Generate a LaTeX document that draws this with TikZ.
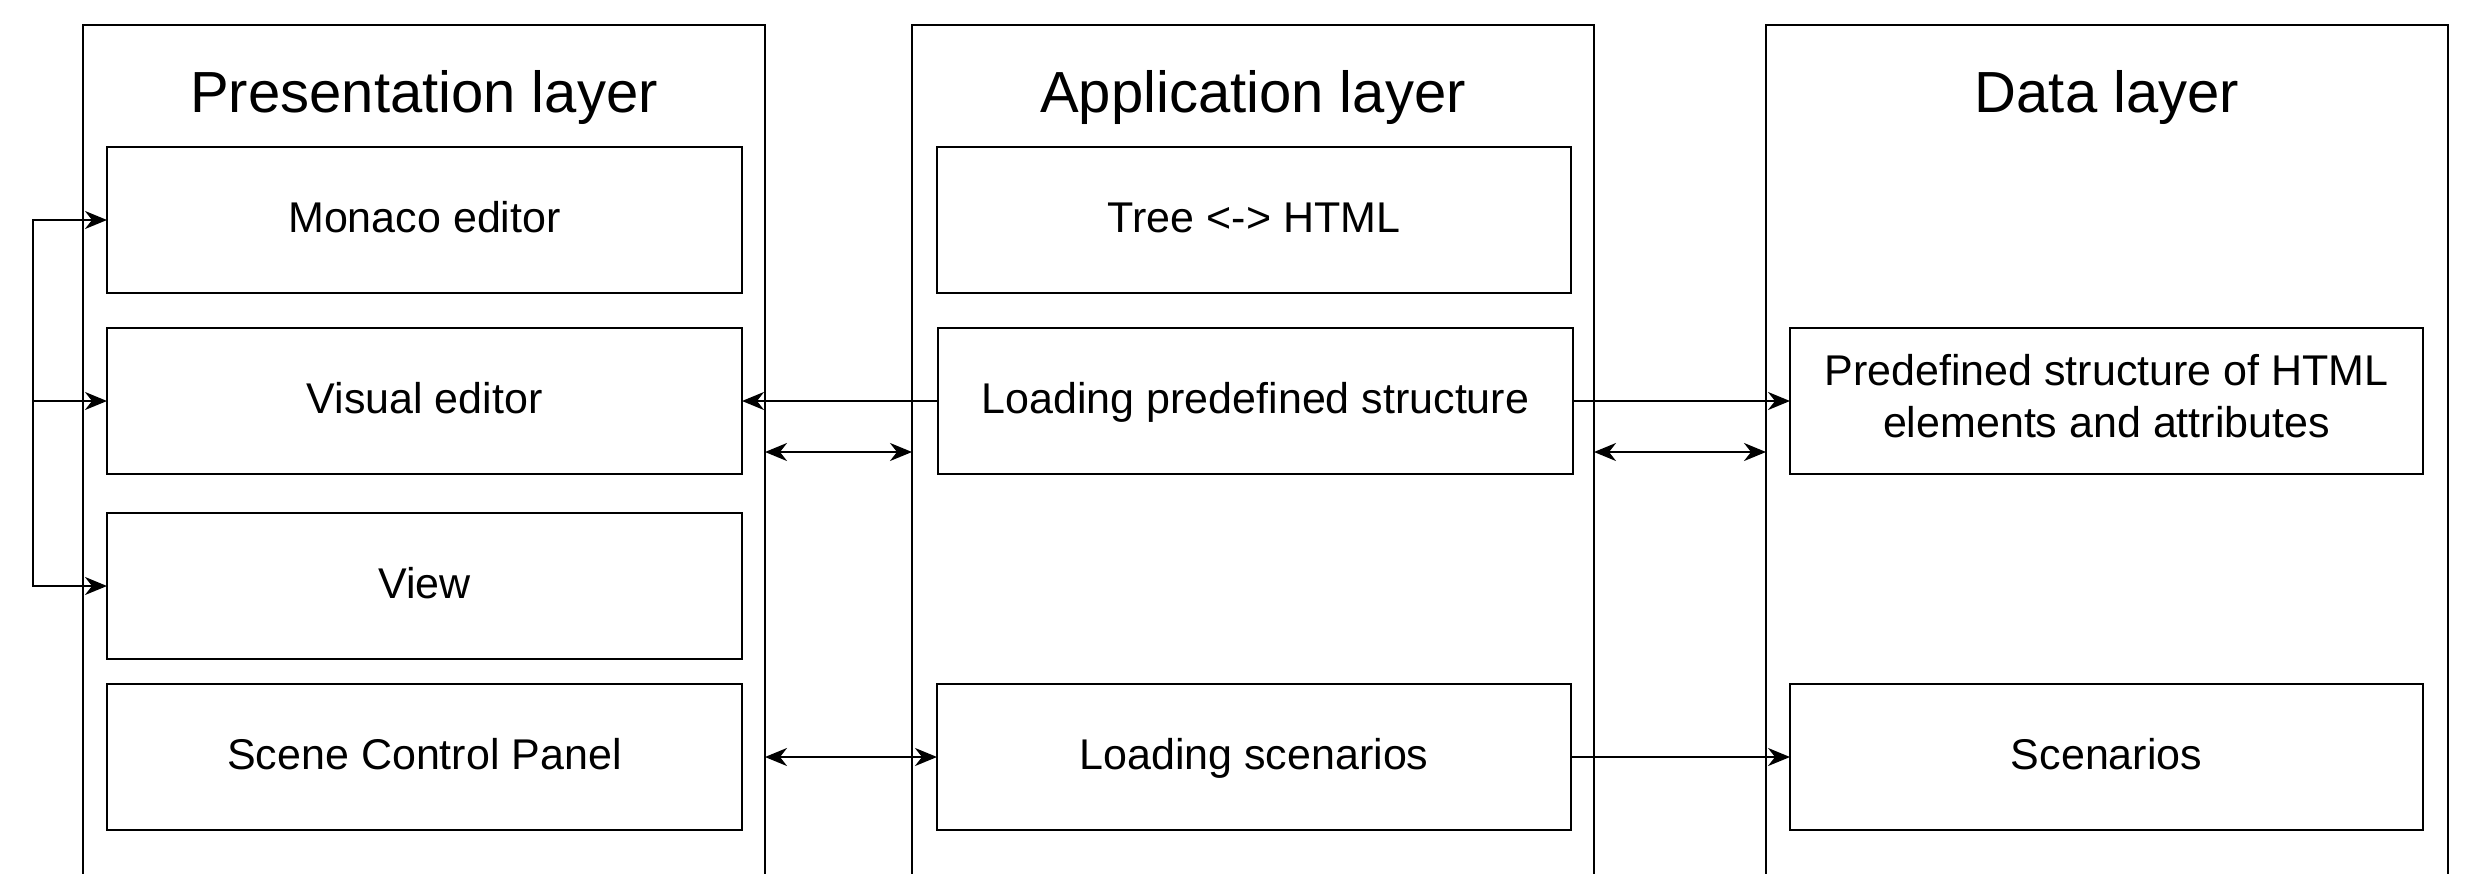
\documentclass[tikz,border=0pt]{standalone}
\usepackage{fontspec}
\setmainfont{Liberation Sans}
\usetikzlibrary{arrows.meta}
\begin{document}
\begin{tikzpicture}[x=1pt,y=-1pt,
  every node/.style={inner sep=0pt,outer sep=0pt},
  layerbox/.style={draw,line width=2.5pt,minimum width=682pt,minimum height=925pt},
  itembox/.style={draw,line width=2.5pt,minimum height=146pt,align=center,
    font=\fontsize{43}{52}\selectfont},
  onebox/.style={itembox,text height=36pt,text depth=12pt},
  titletext/.style={anchor=base,font=\fontsize{58}{68}\selectfont},
  conn/.style={line width=2.5pt,-{Stealth[length=22pt,width=18pt,inset=7pt]}},
  dconn/.style={line width=2.5pt,{Stealth[length=22pt,width=18pt,inset=7pt]}-{Stealth[length=22pt,width=18pt,inset=7pt]}}]
\useasboundingbox (0,0) rectangle (2472,873);
\clip (0,0) rectangle (2472,873);
% layers
\node[layerbox] (L1) at (424,487.5) {};
\node[layerbox] (L2) at (1253,487.5) {};
\node[layerbox] (L3) at (2107,487.5) {};
\node[titletext] (t1) at (424,112) {Presentation layer};
\node[titletext] (t2) at (1253,112) {Application layer};
\node[titletext] (t3) at (2107,112) {Data layer};
% presentation boxes
\node[onebox,minimum width=635pt] (mon) at (424.5,220) {Monaco editor};
\node[onebox,minimum width=635pt] (vis) at (424.5,401) {Visual editor};
\node[onebox,minimum width=635pt] (view) at (424.5,586) {View};
\node[onebox,minimum width=635pt] (scp) at (424.5,757) {Scene Control Panel};
% application boxes
\node[onebox,minimum width=634pt] (tree) at (1254,220) {Tree <-> HTML};
\node[onebox,minimum width=635pt] (lps) at (1255.5,401) {Loading predefined structure};
\node[onebox,minimum width=634pt] (ls) at (1254,757) {Loading scenarios};
% data boxes
\node[itembox,minimum width=633pt] (pred) at (2106.5,401) {Predefined structure of HTML\\elements and attributes\rule[-10pt]{0pt}{10pt}};
\node[onebox,minimum width=633pt] (scen) at (2106.5,757) {Scenarios};
% connectors
\coordinate (c) at (33,401);
\coordinate (h1) at (0,452);
\draw[conn] (c) |- (mon.west);
\draw[conn] (c) -- (vis.west);
\draw[conn] (c) |- (view.west);
\draw[conn] (lps.west) -- (vis.east);
\draw[dconn] (L1.east |- h1) -- (L2.west |- h1);
\draw[conn] (lps.east) -- (pred.west);
\draw[dconn] (L2.east |- h1) -- (L3.west |- h1);
\draw[dconn] (L1.east |- ls.west) -- (ls.west);
\draw[conn] (ls.east) -- (scen.west);
\end{tikzpicture}
\end{document}
